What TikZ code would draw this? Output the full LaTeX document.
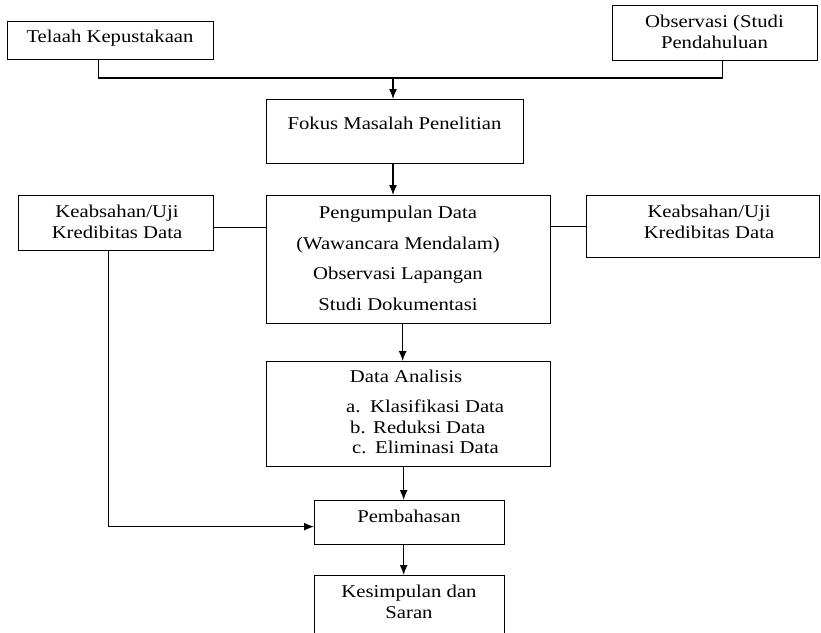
\documentclass[tikz,border=0pt]{standalone}
\usepackage{fontspec}
\setmainfont{Liberation Serif}
\newfontfamily\wordfont{Liberation Serif}[FakeStretch=1.15]
\usepackage{tikz}
\usetikzlibrary{arrows.meta,positioning,calc}
\tikzstyle{box} = [draw, rectangle, line width=1.3pt, anchor=north west, inner sep=0pt]
\tikzstyle{txt} = [anchor=north, inner sep=0pt, align=center]
\tikzstyle{connector} = [-{Latex[length=10pt,width=8pt]}, line width=1.3pt]
\tikzstyle{wire} = [line width=1.3pt]

\begin{document}
\begin{tikzpicture}[x=1pt, y=-1pt, font=\wordfont\fontsize{18}{20.5}\selectfont]
    \useasboundingbox (0,0) rectangle (821,632);
    \node (telaah) [box, minimum width=206, minimum height=38] at (7,21) {};
    \node (obs) [box, minimum width=205, minimum height=55] at (612,5) {};
    \node (fokus) [box, minimum width=257, minimum height=64] at (266,99) {};
    \node (kiri) [box, minimum width=195, minimum height=55] at (18,195) {};
    \node (pengumpulan) [box, minimum width=284, minimum height=128] at (266,195) {};
    \node (kanan) [box, minimum width=233, minimum height=62] at (586,195) {};
    \node (analisis) [box, minimum width=284, minimum height=105] at (266,361) {};
    \node (pembahasan) [box, minimum width=190, minimum height=44] at (314,500) {};
    \node (kesimpulan) [box, minimum width=190, minimum height=70] at (314,575) {};

    \node (telaah-t) [txt] at (110,30) {Telaah Kepustakaan};
    \node (obs-t) [txt] at (714.5,15) {Observasi (Studi\\Pendahuluan};
    \node (fokus-t) [txt] at (394.5,117) {Fokus Masalah Penelitian};
    \node (kiri-t) [txt] at (117,205) {Keabsahan/Uji\\Kredibitas Data};
    \node (pengumpulan-t) [txt] at (398,206) {Pengumpulan Data\\[10pt](Wawancara Mendalam)\\[10pt]Observasi Lapangan\\[10pt]Studi Dokumentasi};
    \node (kanan-t) [txt] at (709,205) {Keabsahan/Uji\\Kredibitas Data};
    \node (analisis-t) [txt] at (406,370) {Data Analisis};
    \node (daftar) [txt, anchor=north west, align=left] at (346,400) {\makebox[24pt][l]{a.}Klasifikasi Data\\\hspace*{4pt}\makebox[23pt][l]{b.}Reduksi Data\\\hspace*{6pt}\makebox[23pt][l]{c.}Eliminasi Data};
    \node (pembahasan-t) [txt] at (409,510) {Pembahasan};
    \node (kesimpulan-t) [txt] at (409,585) {Kesimpulan dan\\Saran};

    \coordinate (join) at (393,78);
    \draw [wire] ([xshift=-12pt]telaah.south) |- (join) -| ([xshift=7.5pt]obs.south);
    \draw [connector] (join) -- (join |- fokus.north);
    \draw [connector] (join |- fokus.south) -- (join |- pengumpulan.north);
    \draw [wire] ([yshift=-4.5pt]kiri.east) -- ([yshift=-4.5pt]kiri.east -| pengumpulan.west);
    \draw [wire] (kanan.west) -- (kanan.west -| pengumpulan.east);
    \draw [connector] ([xshift=-6pt]pengumpulan.south) -- ([xshift=-6pt]analisis.north);
    \draw [connector] ([xshift=-5pt]analisis.south) -- ([xshift=-5pt]analisis.south |- pembahasan.north);
    \draw [connector] ([xshift=-6pt]pembahasan.south) -- ([xshift=-6pt]kesimpulan.north);
    \draw [connector] ([xshift=-7.5pt]kiri.south) |- ([yshift=-4pt]pembahasan.west);
\end{tikzpicture}
\end{document}
